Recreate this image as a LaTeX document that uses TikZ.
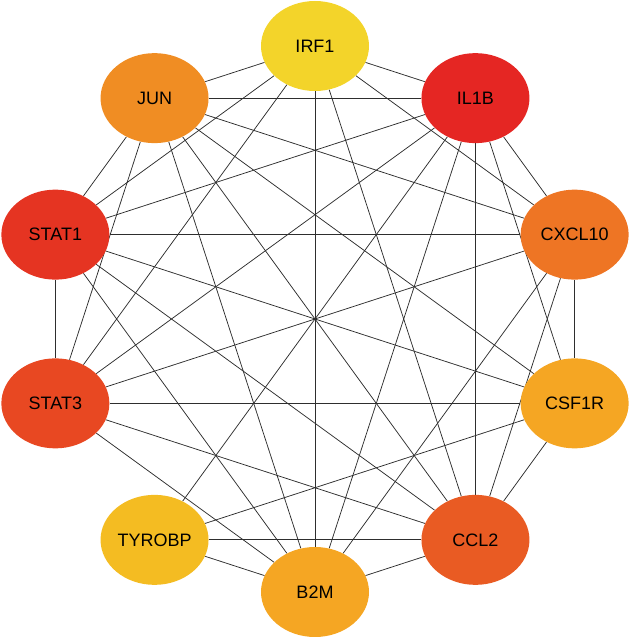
\documentclass[tikz,border=0pt]{standalone}
\usepackage{fontspec}
\setmainfont{Liberation Sans}
\usetikzlibrary{shapes.geometric,backgrounds}
\definecolor{cIRF}{HTML}{F3D42A}
\definecolor{cIL}{HTML}{E52623}
\definecolor{cCXCL}{HTML}{EE7524}
\definecolor{cCSF}{HTML}{F5A623}
\definecolor{cCCL}{HTML}{E95B23}
\definecolor{cB2M}{HTML}{F5A623}
\definecolor{cTYR}{HTML}{F4BC22}
\definecolor{cST3}{HTML}{E84822}
\definecolor{cST1}{HTML}{E53422}
\definecolor{cJUN}{HTML}{F08D23}
\definecolor{edgec}{HTML}{2E2E2E}
\tikzset{
  gene/.style={ellipse, minimum width=108pt, minimum height=90pt, inner sep=0pt,
    fill=#1, draw=none, font=\fontsize{18}{21}\selectfont, text=black},
  link/.style={draw=edgec, line width=0.75pt}
}
\begin{document}
\begin{tikzpicture}[x=1pt,y=1pt]
\useasboundingbox (0,0) rectangle (630,638);
\coordinate (c) at (315,319);
\node[gene=cIRF]  (irf)  at ([shift={(c)}] 90:273pt)  {IRF1};
\node[gene=cIL]   (il)   at ([shift={(c)}] 54:273pt)  {IL1B};
\node[gene=cCXCL] (cxcl) at ([shift={(c)}] 18:273pt)  {CXCL10};
\node[gene=cCSF]  (csf)  at ([shift={(c)}] -18:273pt) {CSF1R};
\node[gene=cCCL]  (ccl)  at ([shift={(c)}] -54:273pt) {CCL2};
\node[gene=cB2M]  (b2m)  at ([shift={(c)}] -90:273pt) {B2M};
\node[gene=cTYR]  (tyr)  at ([shift={(c)}] -126:273pt) {TYROBP};
\node[gene=cST3]  (st3)  at ([shift={(c)}] -162:273pt) {STAT3};
\node[gene=cST1]  (st1)  at ([shift={(c)}] 162:273pt) {STAT1};
\node[gene=cJUN]  (jun)  at ([shift={(c)}] 126:273pt) {JUN};
\begin{pgfonlayer}{background}
\foreach \a/\b in {irf/jun, irf/st1, irf/st3, irf/b2m, irf/ccl, irf/cxcl, irf/il,
  il/jun, il/st1, il/st3, il/tyr, il/b2m, il/ccl, il/csf, il/cxcl,
  jun/cxcl, jun/csf, jun/ccl, jun/b2m, jun/st3, jun/st1,
  st1/cxcl, st1/csf, st1/ccl, st1/b2m, st1/st3,
  st3/cxcl, st3/csf, st3/ccl, st3/b2m,
  cxcl/b2m, cxcl/ccl, cxcl/csf,
  csf/tyr, csf/ccl,
  tyr/ccl, tyr/b2m,
  ccl/b2m}
  \draw[link] (\a) -- (\b);
\end{pgfonlayer}
\end{tikzpicture}
\end{document}
